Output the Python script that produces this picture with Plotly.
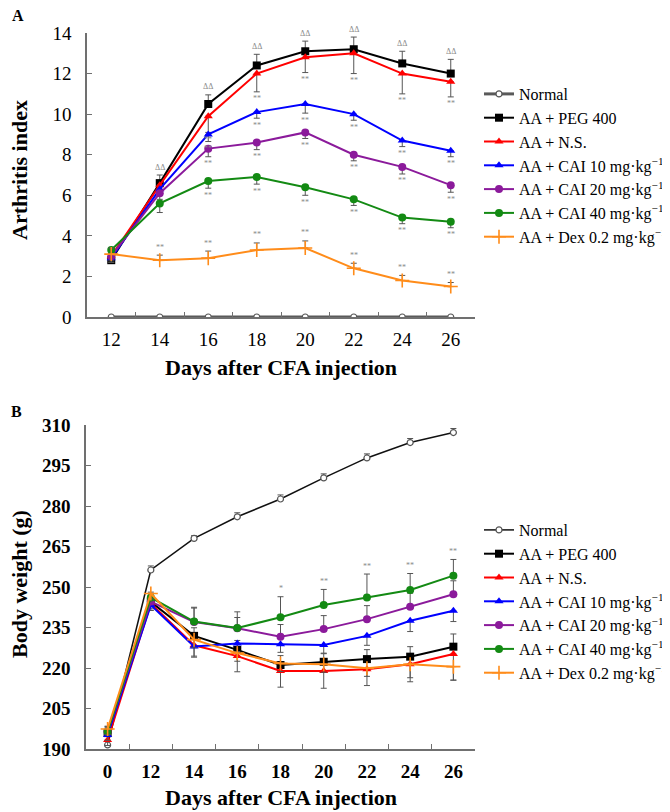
import plotly.graph_objects as go

# ---------------- Panel A data: arthritis index ----------------
days_a = ["12", "14", "16", "18", "20", "22", "24", "26"]
a_normal = [0, 0, 0, 0, 0, 0, 0, 0]
a_peg = [2.8, 6.6, 10.5, 12.4, 13.1, 13.2, 12.5, 12.0]
a_ns = [3.0, 6.5, 9.9, 12.0, 12.8, 13.0, 12.0, 11.6]
a_cai10 = [2.9, 6.3, 9.0, 10.1, 10.5, 10.0, 8.7, 8.2]
a_cai20 = [3.0, 6.1, 8.3, 8.6, 9.1, 8.0, 7.4, 6.5]
a_cai40 = [3.3, 5.6, 6.7, 6.9, 6.4, 5.8, 4.9, 4.7]
a_dex = [3.1, 2.8, 2.9, 3.3, 3.4, 2.4, 1.8, 1.5]

a_peg_err = [0.3, 0.4, 0.45, 0.55, 0.5, 0.6, 0.6, 0.7]
a_ns_err = [0.3, 0.4, 0.8, 0.9, 0.75, 1.0, 1.0, 0.75]
a_cai10_err = [0.2, 0.3, 0.35, 0.3, 0.45, 0.3, 0.3, 0.3]
a_cai20_err = [0.2, 0.3, 0.4, 0.35, 0.3, 0.3, 0.35, 0.35]
a_cai40_err = [0.2, 0.45, 0.35, 0.35, 0.4, 0.3, 0.3, 0.3]
a_dex_err = [0.3, 0.25, 0.35, 0.35, 0.35, 0.25, 0.25, 0.2]

# ---------------- Panel B data: body weight ----------------
days_b = ["0", "12", "14", "16", "18", "20", "22", "24", "26"]
b_normal = [191.5, 256.3, 268.0, 276.0, 282.6, 290.4, 297.8, 303.5, 307.2]
b_peg = [195.9, 244.5, 231.9, 226.7, 221.1, 222.3, 223.3, 224.2, 227.9]
b_ns = [193.3, 243.9, 228.4, 224.4, 218.9, 218.9, 219.5, 221.4, 225.2]
b_cai10 = [195.2, 243.3, 228.0, 229.1, 228.8, 228.5, 231.9, 237.5, 241.2]
b_cai20 = [196.4, 244.6, 237.0, 234.7, 231.6, 234.4, 238.1, 242.7, 247.3]
b_cai40 = [196.4, 246.1, 237.2, 234.8, 238.8, 243.3, 246.1, 248.9, 254.2]
b_dex = [197.4, 247.6, 230.5, 225.5, 221.7, 221.4, 219.9, 221.4, 220.5]

b_normal_err = [1.5, 1.5, 1.0, 1.5, 1.5, 1.5, 1.5, 1.5, 1.5]
b_peg_err = [2.0, 2.0, 3.0, 3.5, 3.5, 3.0, 3.5, 3.7, 4.7]
b_ns_err = [2.0, 2.0, 4.0, 5.8, 6.0, 6.4, 6.0, 6.5, 9.7]
b_cai10_err = [2.0, 2.0, 4.0, 3.0, 3.0, 3.0, 3.5, 4.0, 4.0]
b_cai20_err = [2.0, 2.0, 5.5, 4.0, 4.5, 5.0, 5.0, 5.0, 5.0]
b_cai40_err = [2.0, 2.0, 5.0, 6.0, 7.6, 5.8, 8.7, 6.1, 6.0]
b_dex_err = [2.0, 2.0, 3.0, 3.0, 3.0, 3.0, 3.0, 5.0, 5.0]

names = ["Normal", "AA + PEG 400", "AA + N.S.",
         "AA + CAI 10 mg·kg<sup>−1</sup>", "AA + CAI 20 mg·kg<sup>−1</sup>",
         "AA + CAI 40 mg·kg<sup>−1</sup>", "AA + Dex 0.2 mg·kg<sup>−1</sup>"]
colors = ["#5a5a5a", "#000000", "#ff0000", "#0000ff", "#8b1a9b", "#138a13", "#ff8c1a"]
symbols = ["circle", "square", "triangle-up", "triangle-up", "circle", "circle", "cross-thin"]

# significance labels
a_sig_peg = ["", "ΔΔ", "ΔΔ", "ΔΔ", "ΔΔ", "ΔΔ", "ΔΔ", "ΔΔ"]
a_sig_dex = ["", "**", "**", "**", "**", "**", "**", "**"]
a_sig_cai = ["", "", "**", "**", "**", "**", "**", "**"]
b_sig_cai40 = ["", "", "", "", "*", "**", "**", "**", "**"]

# page body has an 8px default margin: figure drawn at (8, 8)
OFF = 8
W, H = 670 - OFF, 812 - OFF
def px_x(p):
    return (p - OFF) / W
def px_y(p):
    return 1 - (p - OFF) / H

fig = go.Figure()

def add_series(x, y, err, i, up, xa, ya, legend, lw, normal_line=None):
    marker = dict(symbol=symbols[i], color=colors[i], size=8)
    if i == 0:
        marker = dict(symbol="circle", color="white", size=6,
                      line=dict(color="#555555", width=1.2))
    if symbols[i] == "cross-thin":
        marker = dict(symbol="cross-thin", size=10, color=colors[i],
                      line=dict(color=colors[i], width=1.6))
    err_cfg = None
    if err is not None:
        zeros = [0] * len(err)
        err_cfg = dict(type="data", symmetric=False,
                       array=err if up else zeros,
                       arrayminus=zeros if up else err,
                       color="#555555", thickness=1, width=3)
    fig.add_trace(go.Scatter(
        x=x, y=y, name=names[i], mode="lines+markers",
        line=dict(color=normal_line or colors[i], width=lw),
        marker=marker, xaxis=xa, yaxis=ya, legend=legend,
        error_y=err_cfg,
    ))

# Panel A traces
a_series = [a_normal, a_peg, a_ns, a_cai10, a_cai20, a_cai40, a_dex]
a_errs = [None, a_peg_err, a_ns_err, a_cai10_err, a_cai20_err, a_cai40_err, a_dex_err]
a_up = [True, True, False, False, False, False, True]
for i in range(7):
    add_series(days_a, a_series[i], a_errs[i], i, a_up[i], "x", "y", "legend",
               3 if i == 0 else 2)

# Panel B traces
b_series = [b_normal, b_peg, b_ns, b_cai10, b_cai20, b_cai40, b_dex]
b_errs = [b_normal_err, b_peg_err, b_ns_err, b_cai10_err, b_cai20_err, b_cai40_err, b_dex_err]
b_up = [True, True, False, False, True, True, False]
for i in range(7):
    add_series(days_b, b_series[i], b_errs[i], i, b_up[i], "x2", "y2", "legend2",
               1.5 if i == 0 else 2, normal_line="#111111" if i == 0 else None)

annotations = []
sig_font = dict(family="Liberation Serif", size=8, color="#8a8a8a")
# category axes: annotation x is the category index
for k, (v, e, s) in enumerate(zip(a_peg, a_peg_err, a_sig_peg)):
    if s:
        annotations.append(dict(x=k, y=v + e, xref="x", yref="y", text=s, showarrow=False,
                                yshift=8, font=sig_font))
for k, (v, e, s) in enumerate(zip(a_dex, a_dex_err, a_sig_dex)):
    if s:
        annotations.append(dict(x=k, y=v + e, xref="x", yref="y", text=s, showarrow=False,
                                yshift=8, font=sig_font))
for ser, er in [(a_ns, a_ns_err), (a_cai10, a_cai10_err), (a_cai20, a_cai20_err), (a_cai40, a_cai40_err)]:
    for k, (v, e, s) in enumerate(zip(ser, er, a_sig_cai)):
        if s:
            annotations.append(dict(x=k, y=v - e, xref="x", yref="y", text=s, showarrow=False,
                                    yshift=-7, font=sig_font))
for k, (v, e, s) in enumerate(zip(b_cai40, b_cai40_err, b_sig_cai40)):
    if s:
        annotations.append(dict(x=k, y=v + e, xref="x2", yref="y2", text=s, showarrow=False,
                                yshift=8, font=sig_font))

panel_font = dict(family="Liberation Serif", size=16, color="black", weight="bold")
title_font = dict(family="Liberation Serif", size=22, color="black", weight="bold")
annotations += [
    dict(x=px_x(10), y=px_y(16), xref="paper", yref="paper", text="A", showarrow=False,
         xanchor="left", yanchor="middle", font=panel_font),
    dict(x=px_x(9), y=px_y(411), xref="paper", yref="paper", text="B", showarrow=False,
         xanchor="left", yanchor="middle", font=panel_font),
    dict(x=px_x(281), y=px_y(368), xref="paper", yref="paper", text="Days after CFA injection",
         showarrow=False, xanchor="center", yanchor="middle", font=title_font),
    dict(x=px_x(281), y=px_y(797), xref="paper", yref="paper", text="Days after CFA injection",
         showarrow=False, xanchor="center", yanchor="middle", font=title_font),
    dict(x=px_x(19), y=px_y(170), xref="paper", yref="paper", text="Arthritis index",
         textangle=-90, showarrow=False, xanchor="center", yanchor="middle", font=title_font),
    dict(x=px_x(19), y=px_y(584), xref="paper", yref="paper", text="Body weight (g)",
         textangle=-90, showarrow=False, xanchor="center", yanchor="middle", font=title_font),
]

axis_line = dict(showline=True, linecolor="#707070", linewidth=1.5, ticks="inside",
                 tickcolor="#707070", ticklen=5, tickwidth=1.2, showgrid=False,
                 zeroline=False, mirror=False, automargin=False)
tick_a = dict(family="Liberation Serif", size=19, color="black")
tick_b = dict(family="Liberation Serif", size=19, color="black", weight="bold")

fig.update_layout(
    width=W, height=H, margin=dict(l=0, r=0, t=0, b=0, autoexpand=False),
    paper_bgcolor="white", plot_bgcolor="white",
    showlegend=True,
    xaxis=dict(domain=[px_x(87), px_x(475)], anchor="y", type="category",
               range=[-0.5, 7.5], tickson="boundaries", tickfont=tick_a,
               ticklabelstandoff=4, **axis_line),
    yaxis=dict(domain=[px_y(317), px_y(33)], anchor="x", range=[0, 14], dtick=2,
               tickfont=tick_a, ticklabelstandoff=10, **axis_line),
    xaxis2=dict(domain=[px_x(86), px_x(475)], anchor="y2", type="category",
                range=[-0.5, 8.5], tickson="boundaries", tickfont=tick_b,
                ticklabelstandoff=4, **axis_line),
    yaxis2=dict(domain=[px_y(749), px_y(425)], anchor="x2", range=[190, 310],
                tick0=190, dtick=15, tickfont=tick_b, ticklabelstandoff=10, **axis_line),
    legend=dict(x=px_x(479), y=px_y(77), xanchor="left", yanchor="top",
                font=dict(family="Liberation Serif", size=16, color="black"),
                bgcolor="rgba(0,0,0,0)", tracegroupgap=0),
    legend2=dict(x=px_x(479), y=px_y(513), xanchor="left", yanchor="top",
                 font=dict(family="Liberation Serif", size=16, color="black"),
                 bgcolor="rgba(0,0,0,0)", tracegroupgap=0),
    annotations=annotations,
)

fig.write_html("out.html")
